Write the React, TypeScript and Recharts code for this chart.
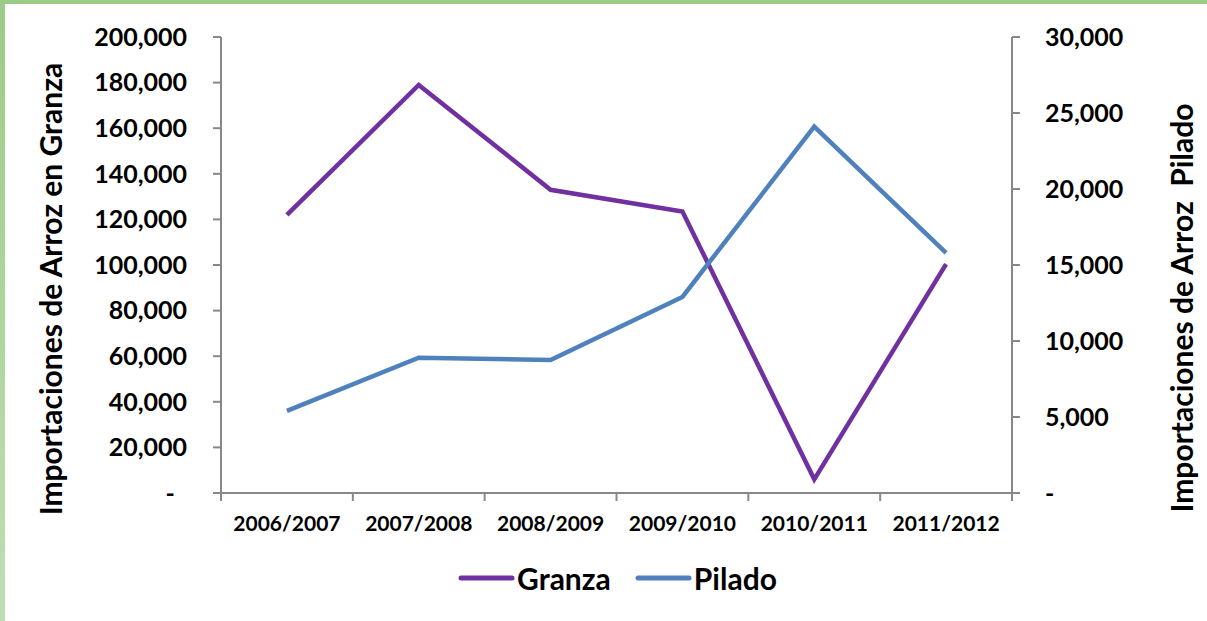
import React from 'react';
import { LineChart, Line, XAxis, YAxis, Legend } from 'recharts';

const categories = ['2006/2007', '2007/2008', '2008/2009', '2009/2010', '2010/2011', '2011/2012'];
const granza = [122000, 179000, 133000, 123500, 6000, 100400];
const pilado = [5400, 8900, 8750, 12900, 24100, 15800];
const leftTicks = [0, 20000, 40000, 60000, 80000, 100000, 120000, 140000, 160000, 180000, 200000];
const rightTicks = [0, 5000, 10000, 15000, 20000, 25000, 30000];
const xTicks = [0, 0.5, 1, 1.5, 2, 2.5, 3, 3.5, 4, 4.5, 5, 5.5, 6];

const data = categories.map((c, i) => ({ x: i + 0.5, name: c, Granza: granza[i], Pilado: pilado[i] }));

const FONT = 'Lato, "DejaVu Sans", sans-serif';
const PURPLE = '#7030A0';
const BLUE = '#4F81BD';
const AXIS = '#888888';

const fmtLeft = (v: number) => (v === 0 ? '-\u00A0\u00A0' : v.toLocaleString('en-US'));
const fmtRight = (v: number) => (v === 0 ? '-' : v.toLocaleString('en-US'));

const XTick = (props: any) => {
  const { x, payload } = props;
  const v = payload.value as number;
  if (Number.isInteger(v)) {
    return <line x1={x} x2={x} y1={493} y2={501} stroke={AXIS} strokeWidth={2} />;
  }
  const idx = Math.floor(v);
  return (
    <text x={x} y={531} textAnchor="middle" fontFamily={FONT} fontWeight={700} fontSize={21} fill="#000">
      {categories[idx]}
    </text>
  );
};

const LegendContent = () => {
  const items = [
    { name: 'Granza', color: PURPLE },
    { name: 'Pilado', color: BLUE },
  ];
  return (
    <div style={{ display: 'flex', justifyContent: 'center', alignItems: 'center', fontFamily: FONT }}>
      {items.map((it, i) => (
        <div key={it.name} style={{ display: 'flex', alignItems: 'center', marginLeft: i === 0 ? 0 : 24 }}>
          <svg width={57} height={10} style={{ display: 'block' }}>
            <line x1={3} x2={54} y1={5} y2={5} stroke={it.color} strokeWidth={5} strokeLinecap="round" />
          </svg>
          <span style={{ fontWeight: 700, fontSize: 30, color: '#000', marginLeft: 2 }}>{it.name}</span>
        </div>
      ))}
    </div>
  );
};

export default function App() {
  return (
    <div style={{ position: 'fixed', left: 0, top: 0, width: 1207, height: 621, background: '#fff', overflow: 'hidden' }}>
      <LineChart width={1207} height={621} data={data} margin={{ top: 37, right: 0, bottom: 0, left: 0 }}>
        <XAxis
          dataKey="x"
          type="number"
          domain={[0, 6]}
          ticks={xTicks}
          interval={0}
          tickLine={false}
          tickSize={0}
          tick={<XTick />}
          height={128}
          axisLine={{ stroke: AXIS, strokeWidth: 2 }}
        />
        <YAxis
          yAxisId="left"
          orientation="left"
          width={221}
          domain={[0, 200000]}
          ticks={leftTicks}
          interval={0}
          tickFormatter={fmtLeft}
          tickSize={8}
          tickMargin={26}
          tickLine={{ stroke: AXIS, strokeWidth: 2 }}
          axisLine={{ stroke: AXIS, strokeWidth: 2 }}
          tick={{ fill: '#000', fontFamily: FONT, fontWeight: 700, fontSize: 25 }}
          label={{
            value: 'Importaciones de Arroz en Granza',
            angle: -90,
            position: 'center',
            dx: -59,
            dy: 24,
            style: { fill: '#000', fontFamily: FONT, fontWeight: 700, fontSize: 30, textAnchor: 'middle' },
          }}
        />
        <YAxis
          yAxisId="right"
          orientation="right"
          width={195}
          domain={[0, 30000]}
          ticks={rightTicks}
          interval={0}
          tickFormatter={fmtRight}
          tickSize={8}
          tickMargin={25}
          tickLine={{ stroke: AXIS, strokeWidth: 2 }}
          axisLine={{ stroke: AXIS, strokeWidth: 2 }}
          tick={{ fill: '#000', fontFamily: FONT, fontWeight: 700, fontSize: 25 }}
          label={{
            value: 'Importaciones de Arroz\u00A0 Pilado',
            angle: -90,
            position: 'center',
            dx: 73,
            dy: 43,
            style: { fill: '#000', fontFamily: FONT, fontWeight: 700, fontSize: 30, textAnchor: 'middle' },
          }}
        />
        <Line yAxisId="left" type="linear" dataKey="Granza" stroke={PURPLE} strokeWidth={4.5} dot={false} isAnimationActive={false} />
        <Line yAxisId="right" type="linear" dataKey="Pilado" stroke={BLUE} strokeWidth={4.5} dot={false} isAnimationActive={false} />
        <Legend
          layout="horizontal"
          verticalAlign="middle"
          align="center"
          content={<LegendContent />}
          wrapperStyle={{ position: 'absolute', top: 560, left: 14, width: 1207 }}
        />
      </LineChart>
      <div style={{ position: 'absolute', left: 0, top: 0, width: 1207, height: 4, background: '#9CCB88' }} />
      <div
        style={{
          position: 'absolute',
          left: 0,
          top: 0,
          width: 5,
          height: 621,
          background: 'linear-gradient(#9CCB88, #BFDFB3)',
        }}
      />
    </div>
  );
}
